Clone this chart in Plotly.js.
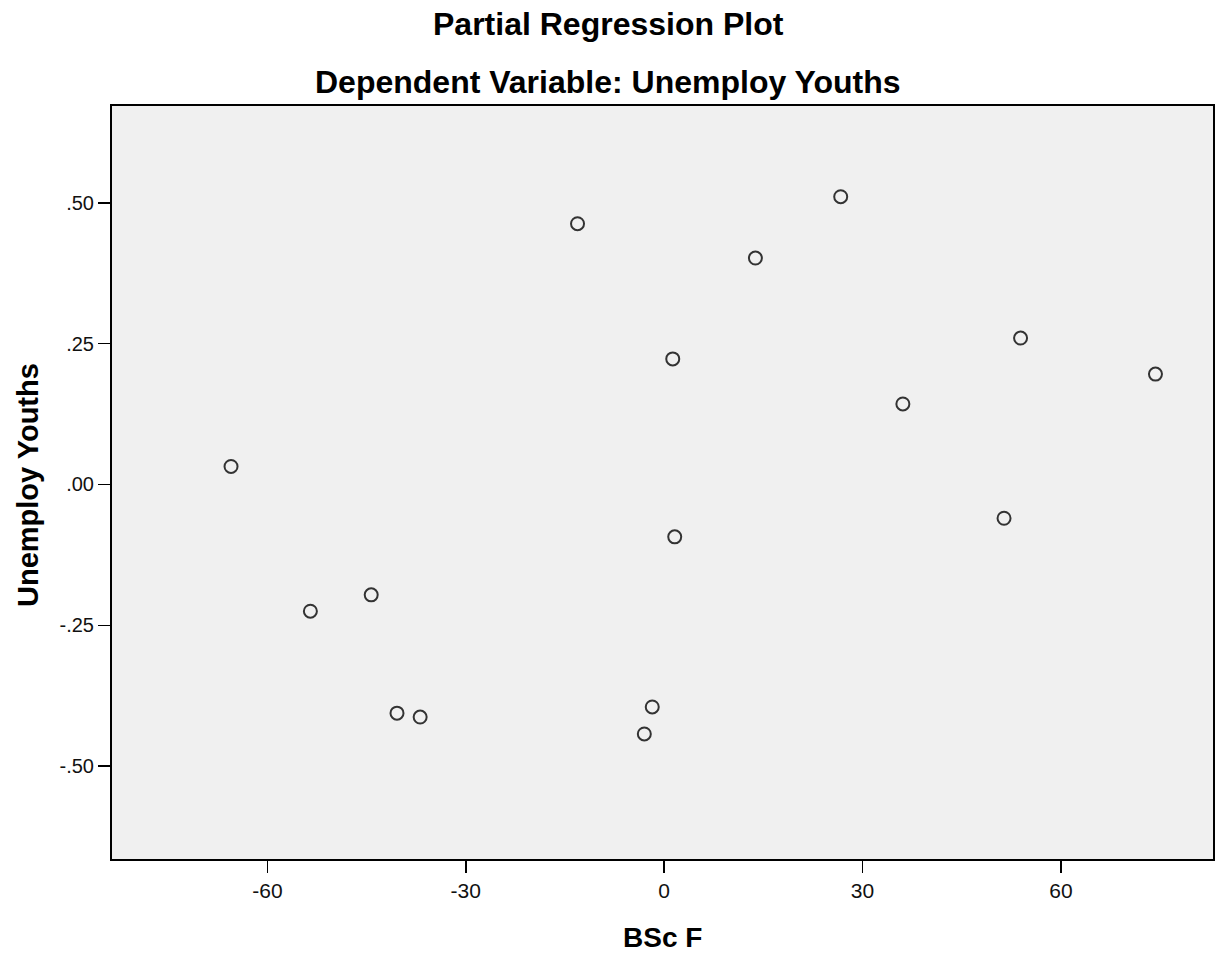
<!DOCTYPE html>
<html>
<head>
<meta charset="utf-8">
<script src="https://cdn.plot.ly/plotly-3.0.1.min.js"></script>
<style>html,body{margin:0;padding:0;background:#fff;}#chart{width:1221px;height:954px;}</style>
</head>
<body>
<div id="chart"></div>
<script>
// Data
const bscF = [-65.5, -53.5, -44.3, -40.4, -36.9, -13.1, -3.0, -1.8, 1.3, 1.6, 13.8, 26.7, 36.1, 51.4, 53.9, 74.3];
const unemployYouths = [0.032, -0.225, -0.196, -0.406, -0.413, 0.463, -0.443, -0.395, 0.223, -0.093, 0.402, 0.511, 0.143, -0.060, 0.260, 0.196];
const xTickVals = [-60, -30, 0, 30, 60];
const xTickText = ["-60", "-30", "0", "30", "60"];
const yTickVals = [0.5, 0.25, 0, -0.25, -0.5];
const yTickText = [".50", ".25", ".00", "-.25", "-.50"];
const titleLine1 = "Partial Regression Plot";
const titleLine2 = "Dependent Variable: Unemploy Youths";
const xTitle = "BSc F";
const yTitle = "Unemploy Youths";

const font = "Liberation Sans, Arial, sans-serif";

const trace = {
  x: bscF,
  y: unemployYouths,
  type: "scatter",
  mode: "markers",
  marker: {symbol: "circle-open", size: 13, color: "#333333", line: {width: 2, color: "#333333"}},
  hoverinfo: "x+y",
  showlegend: false
};

const layout = {
  width: 1221,
  height: 954,
  margin: {l: 112, r: 8, t: 106, b: 95},
  paper_bgcolor: "#ffffff",
  plot_bgcolor: "#f0f0f0",
  font: {family: font, color: "#000"},
  xaxis: {
    range: [-83.5, 83.0],
    tickvals: xTickVals, ticktext: xTickText,
    ticks: "outside", ticklen: 12, tickwidth: 1.5, tickcolor: "#000",
    showgrid: false, zeroline: false,
    showline: true, mirror: true, linecolor: "#000", linewidth: 2,
    tickfont: {family: font, size: 21, color: "#111"}
  },
  yaxis: {
    range: [-0.665, 0.672],
    tickvals: yTickVals, ticktext: yTickText,
    ticks: "outside", ticklen: 12, tickwidth: 1.5, tickcolor: "#000",
    showgrid: false, zeroline: false,
    showline: true, mirror: true, linecolor: "#000", linewidth: 2,
    tickfont: {family: font, size: 20, color: "#111"}
  },
  annotations: [
    {text: "<b>" + titleLine1 + "</b>", xref: "paper", yref: "paper", x: 0.4505, y: 1.109,
     xanchor: "center", yanchor: "middle", showarrow: false, font: {family: font, size: 32, color: "#000"}},
    {text: "<b>" + titleLine2 + "</b>", xref: "paper", yref: "paper", x: 0.4505, y: 1.0322,
     xanchor: "center", yanchor: "middle", showarrow: false, font: {family: font, size: 32, color: "#000"}},
    {text: "<b>" + xTitle + "</b>", xref: "paper", yref: "paper", x: 0.5, y: -0.1036,
     xanchor: "center", yanchor: "middle", showarrow: false, font: {family: font, size: 28, color: "#000"}},
    {text: "<b>" + yTitle + "</b>", xref: "paper", yref: "paper", x: -0.0763, y: 0.4967, textangle: -90,
     xanchor: "center", yanchor: "middle", showarrow: false, font: {family: font, size: 29, color: "#000"}}
  ]
};

Plotly.newPlot("chart", [trace], layout, {displayModeBar: false, staticPlot: true});
</script>
</body>
</html>
